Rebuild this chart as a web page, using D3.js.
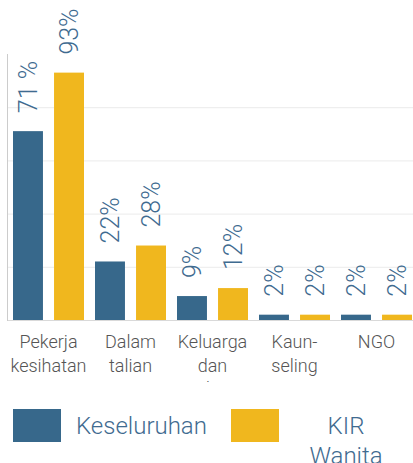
<!DOCTYPE html>
<html>
<head>
<meta charset="utf-8">
<script src="https://cdn.jsdelivr.net/npm/d3@7"></script>
<style>
  body { margin: 0; background: #fff; }
  text { font-family: Roboto, "Noto Sans", sans-serif; }
</style>
</head>
<body>
<div id="chart"></div>
<script>
// chart data
const categories = ["Pekerja kesihatan", "Dalam talian", "Keluarga dan rakan", "Kaunseling", "NGO"];
const categoryLines = [["Pekerja", "kesihatan"], ["Dalam", "talian"], ["Keluarga", "dan", "rakan"], ["Kaun-", "seling"], ["NGO"]];
const seriesNames = ["Keseluruhan", "KIR Wanita"];
const keseluruhan = [71, 22, 9, 2, 2];
const kirWanita = [93, 28, 12, 2, 2];
const keseluruhanLabels = ["71 %", "22%", "9%", "2%", "2%"];
const kirWanitaLabels = ["93%", "28%", "12%", "2%", "2%"];
const gridTicks = [20, 40, 60, 80];

const width = 413;
const height = 463;
const margin = {left: 8, right: 0, top: 54, bottom: 143};
const colors = {"Keseluruhan": "#37688b", "KIR Wanita": "#f0b71e"};

const svg = d3.select("#chart")
    .append("svg")
    .attr("width", width)
    .attr("height", height);

// one row per bar
const rows = [];
categories.forEach((c, i) => {
    rows.push({cat: c, series: "Keseluruhan", value: keseluruhan[i], label: keseluruhanLabels[i]});
    rows.push({cat: c, series: "KIR Wanita", value: kirWanita[i], label: kirWanitaLabels[i]});
});

const x0 = d3.scaleBand()
    .domain(categories)
    .range([margin.left, margin.left + 82 * categories.length]);

const x1 = d3.scaleBand()
    .domain(seriesNames)
    .range([5, 76])
    .paddingInner(0.27);

const y = d3.scaleLinear()
    .domain([0, 100])
    .range([height - margin.bottom, margin.top]);

// gridlines
svg.append("g")
    .selectAll("line")
    .data(gridTicks)
    .enter()
    .append("line")
    .attr("x1", margin.left)
    .attr("x2", width)
    .attr("y1", d => y(d) + 0.5)
    .attr("y2", d => y(d) + 0.5)
    .attr("stroke", "#ebebeb")
    .attr("stroke-width", 1);

// baseline
svg.append("line")
    .attr("x1", margin.left)
    .attr("x2", width)
    .attr("y1", y(0) + 0.5)
    .attr("y2", y(0) + 0.5)
    .attr("stroke", "#d9d9d9");

// left axis line
svg.append("line")
    .attr("x1", margin.left - 0.5)
    .attr("x2", margin.left - 0.5)
    .attr("y1", y(100))
    .attr("y2", y(0) + 1)
    .attr("stroke", "#cccccc");

// bars
svg.append("g")
    .selectAll("rect")
    .data(rows)
    .enter()
    .append("rect")
    .attr("x", d => x0(d.cat) + x1(d.series))
    .attr("y", d => y(d.value))
    .attr("width", x1.bandwidth())
    .attr("height", d => y(0) - y(d.value))
    .attr("fill", d => colors[d.series]);

// value labels, rotated
svg.append("g")
    .selectAll("text")
    .data(rows)
    .enter()
    .append("text")
    .attr("transform", d => `translate(${x0(d.cat) + x1(d.series) + x1.bandwidth() / 2},${y(d.value) - 18}) rotate(-90)`)
    .attr("dy", "0.36em")
    .attr("text-anchor", "start")
    .attr("font-size", "25px")
    .attr("font-weight", 300)
    .attr("fill", "#3f6b90")
    .text(d => d.label);

// category labels, clipped like the original
svg.append("clipPath")
    .attr("id", "catclip")
    .append("rect")
    .attr("x", 0)
    .attr("y", 0)
    .attr("width", width)
    .attr("height", 382);

const catText = svg.append("g")
    .attr("clip-path", "url(#catclip)")
    .selectAll("text")
    .data(categories)
    .enter()
    .append("text")
    .attr("x", d => x0(d) + x0.bandwidth() / 2 - 0.5)
    .attr("y", 348)
    .attr("text-anchor", "middle")
    .attr("font-size", "18px")
    .attr("font-weight", 300)
    .attr("fill", "#555555");

catText.selectAll("tspan")
    .data((d, i) => categoryLines[i])
    .enter()
    .append("tspan")
    .attr("x", function() { return this.parentNode.getAttribute("x"); })
    .attr("dy", (d, i) => i === 0 ? 0 : 23.5)
    .text(d => d);

// legend
const legend = svg.append("g");
legend.append("rect")
    .attr("x", 13).attr("y", 409)
    .attr("width", 48).attr("height", 33)
    .attr("fill", colors["Keseluruhan"]);
legend.append("text")
    .attr("x", 76).attr("y", 434)
    .attr("font-size", "24px")
    .attr("font-weight", 300)
    .attr("fill", "#3f6b90")
    .text(seriesNames[0]);
legend.append("rect")
    .attr("x", 231).attr("y", 409)
    .attr("width", 48).attr("height", 33)
    .attr("fill", colors["KIR Wanita"]);
const kir = legend.append("text")
    .attr("x", 346).attr("y", 434)
    .attr("text-anchor", "middle")
    .attr("font-size", "24px")
    .attr("font-weight", 300)
    .attr("fill", "#3f6b90");
kir.selectAll("tspan")
    .data(seriesNames[1].split(" "))
    .enter()
    .append("tspan")
    .attr("x", 346)
    .attr("dy", (d, i) => i === 0 ? 0 : 30)
    .text(d => d);
</script>
</body>
</html>
